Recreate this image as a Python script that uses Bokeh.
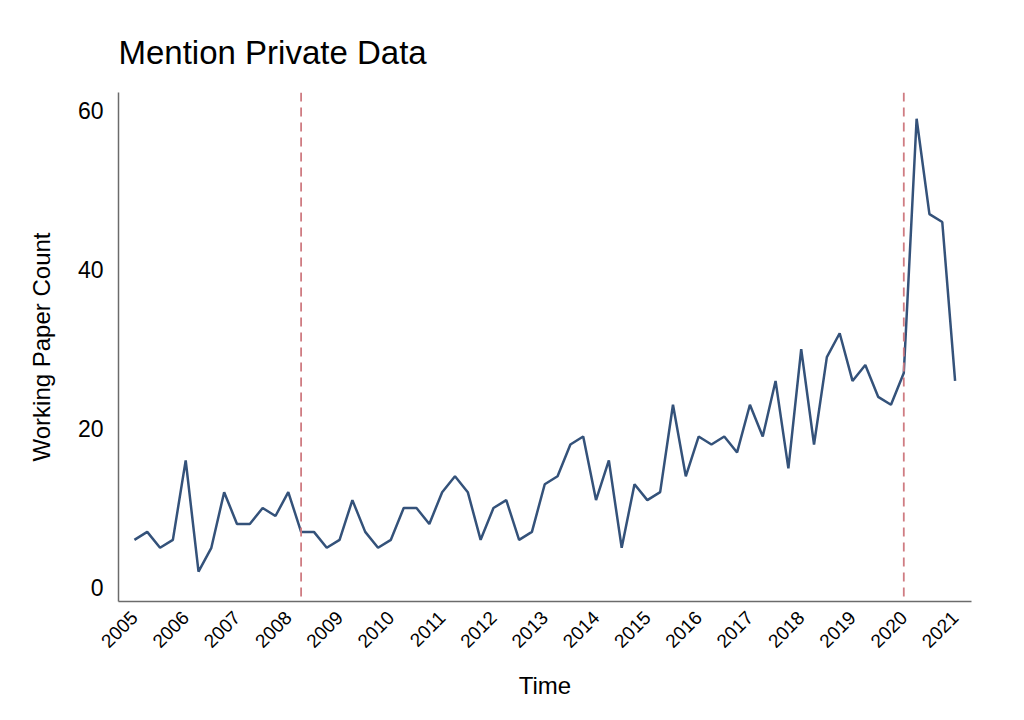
from bokeh.plotting import figure
from bokeh.models import Range1d, FixedTicker, Span
from bokeh.embed import file_html
from bokeh.resources import INLINE

# Quarterly working paper counts, 2005 Q1 .. 2021 Q1
counts = [6, 7, 5, 6, 16, 2, 5, 12, 8, 8, 10, 9, 12,
          7, 7, 5, 6, 11, 7, 5, 6, 10, 10, 8,
          12, 14, 12, 6, 10, 11, 6, 7, 13, 14, 18, 19,
          11, 16, 5, 13, 11, 12, 23, 14, 19, 18, 19, 17,
          23, 19, 26, 15, 30, 18, 29, 32, 26, 28, 24, 23,
          27, 59, 47, 46, 26]
start_year = 2005
quarters_per_year = 4
time = [start_year + i / quarters_per_year for i in range(len(counts))]

year_ticks = list(range(2005, 2022))
y_ticks = [0, 20, 40, 60]
event_times = [2008.25, 2020.0]

FONT = "Liberation Sans"

p = figure(width=1000, height=712, output_backend="svg", toolbar_location=None,
           title="Mention Private Data",
           x_range=Range1d(2004.69, 2021.32), y_range=Range1d(-1.76, 62.3),
           min_border_left=118, min_border_right=29, min_border_top=92,
           min_border_bottom=111)

p.outline_line_color = None
p.xgrid.visible = False
p.ygrid.visible = False
p.background_fill_color = "white"
p.border_fill_color = "white"

p.title.text_font = FONT
p.title.text_font_size = "33px"
p.title.text_font_style = "normal"
p.title.text_color = "black"
p.title.align = "left"
p.title.standoff = 44

for ev in event_times:
    p.add_layout(Span(location=ev, dimension="height", line_color="#cf7c82",
                      line_width=1.8, line_dash="9 6"))

p.line(time, counts, line_color="#34527a", line_width=2.5)

p.xaxis.ticker = FixedTicker(ticks=year_ticks)
p.yaxis.ticker = FixedTicker(ticks=y_ticks)
for ax in (p.xaxis[0], p.yaxis[0]):
    ax.axis_line_color = "#6b6b6b"
    ax.axis_line_width = 1.5
    ax.major_tick_line_color = None
    ax.minor_tick_line_color = None
    ax.major_tick_out = 0
    ax.minor_tick_out = 0
    ax.major_label_text_font = FONT
    ax.major_label_text_color = "black"
    ax.axis_label_text_font = FONT
    ax.axis_label_text_font_style = "normal"
    ax.axis_label_text_color = "black"
    ax.axis_label_text_font_size = "24px"

p.xaxis.axis_label = "Time"
p.xaxis.major_label_orientation = 0.785398
p.xaxis.major_label_text_font_size = "19px"
p.xaxis.major_label_standoff = 13
p.xaxis.axis_label_standoff = 15

p.yaxis.axis_label = "Working Paper Count"
p.yaxis.major_label_text_font_size = "23px"
p.yaxis.major_label_standoff = 15
p.yaxis.axis_label_standoff = 20

open("out.html", "w").write(file_html(p, INLINE))
